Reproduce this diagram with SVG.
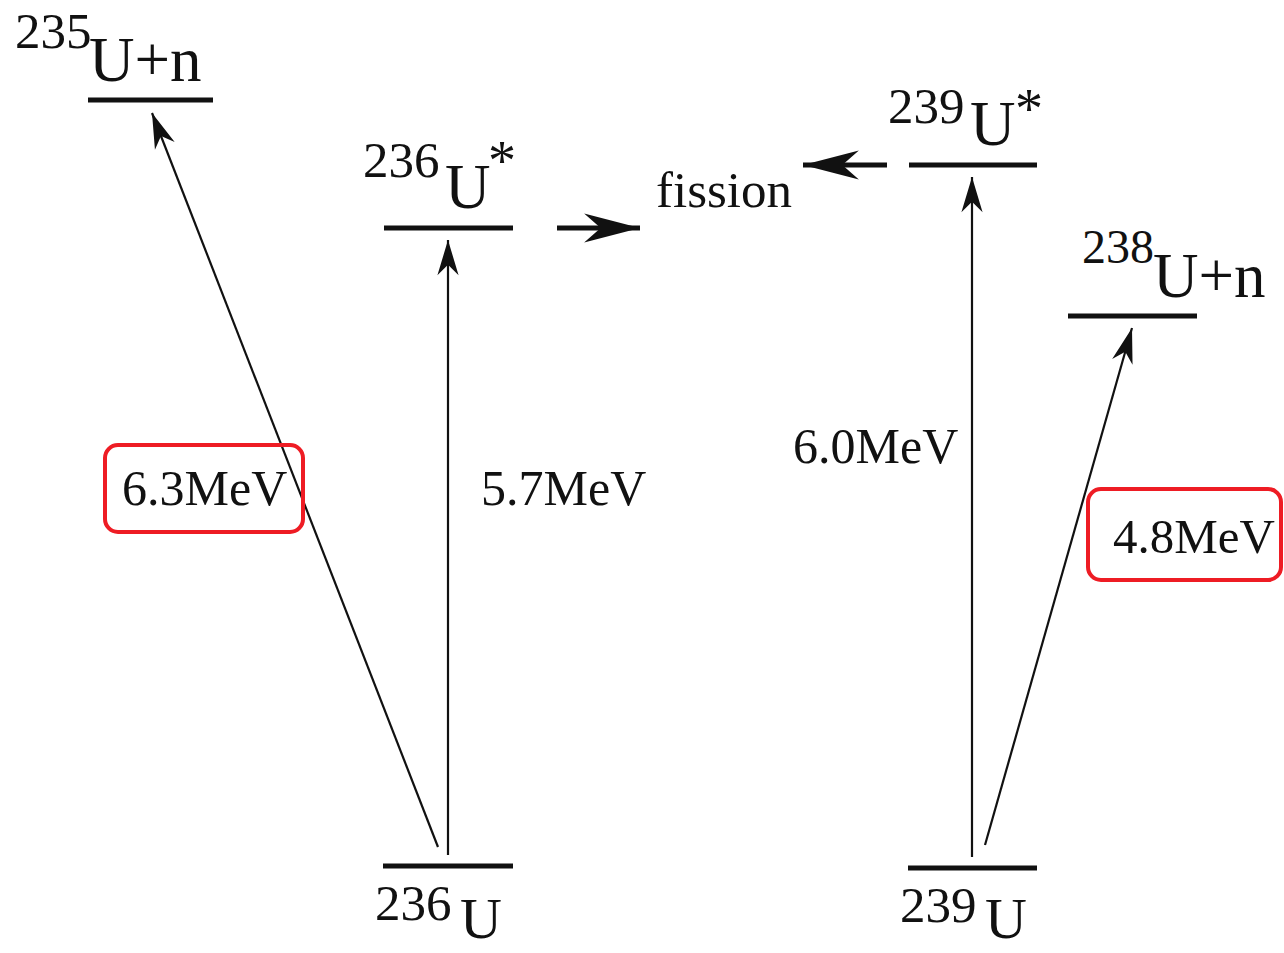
<svg xmlns="http://www.w3.org/2000/svg" width="1284" height="953" viewBox="0 0 1284 953">
<style>
text{font-family:"Liberation Serif","Times New Roman",serif;fill:#111}
.lvl{stroke:#111;stroke-width:5;fill:none}
.arr{stroke:#111;stroke-width:2.2;fill:none}
.thick{stroke:#111;stroke-width:5;fill:none}
.box{fill:none;stroke:#ee1c24;stroke-width:4}
.sup{font-size:51px}
.big{font-size:63px}
.bot{font-size:58px}
.lab{font-size:50px}
.ast{font-size:56px}
</style>
<defs>
<marker id="ah" markerUnits="userSpaceOnUse" markerWidth="40" markerHeight="30" viewBox="-32 -12 34 24" refX="0" refY="0" orient="auto">
<path d="M0,0 L-30,-9 L-21,0 L-30,9 Z" fill="#111"/>
</marker>
<marker id="ahb" markerUnits="userSpaceOnUse" markerWidth="60" markerHeight="34" viewBox="-56 -16 58 32" refX="0" refY="0" orient="auto">
<path d="M0,0 L-54,-14 L-38,0 L-54,14 Z" fill="#111"/>
</marker>
</defs>
<g id="n235Un">
<line class="lvl" x1="88" y1="100" x2="213" y2="100"/>
<text class="sup" x="15" y="48">235</text>
<text class="big" x="89" y="81">U+n</text>
</g>
<g id="n236Ustar">
<line class="lvl" x1="384" y1="228" x2="513" y2="228"/>
<text class="sup" x="363" y="177">236</text>
<text class="big" x="445" y="208">U</text>
<text class="ast" x="488" y="180">*</text>
</g>
<g id="nfission">
<text style="font-size:51px" x="656" y="207">fission</text>
</g>
<g id="n239Ustar">
<line class="lvl" x1="909" y1="165" x2="1037" y2="165"/>
<text class="sup" x="888" y="123">239</text>
<text class="big" x="970" y="145">U</text>
<text class="ast" x="1015" y="128">*</text>
</g>
<g id="n238Un">
<line class="lvl" x1="1068" y1="316" x2="1197" y2="316"/>
<text style="font-size:48px" x="1082" y="263">238</text>
<text class="big" x="1153" y="297">U+n</text>
</g>
<g id="n236U">
<line class="lvl" x1="383" y1="866" x2="513" y2="866"/>
<text class="sup" x="375" y="920">236</text>
<text class="bot" x="460" y="938">U</text>
</g>
<g id="n239U">
<line class="lvl" x1="908" y1="868" x2="1037" y2="868"/>
<text class="sup" x="900" y="922">239</text>
<text class="bot" x="985" y="938">U</text>
</g>
<g id="connectors">
<line class="arr" x1="438" y1="847" x2="152" y2="113" marker-end="url(#ah)"/>
<line class="arr" x1="448" y1="855" x2="448" y2="240" marker-end="url(#ah)"/>
<line class="arr" x1="972" y1="857" x2="972" y2="177" marker-end="url(#ah)"/>
<line class="arr" x1="985" y1="845" x2="1132" y2="328" marker-end="url(#ah)"/>
<line class="thick" x1="557" y1="228" x2="640" y2="228" marker-end="url(#ahb)"/>
<line class="thick" x1="887" y1="165" x2="803" y2="165" marker-end="url(#ahb)"/>
</g>
<g id="labels">
<rect class="box" x="105" y="445" width="198" height="87" rx="13"/>
<text class="lab" x="122" y="505">6.3MeV</text>
<text class="lab" x="481" y="505">5.7MeV</text>
<text class="lab" x="793" y="463">6.0MeV</text>
<rect class="box" x="1088" y="489" width="193" height="91" rx="13"/>
<text style="font-size:49px" x="1113" y="553">4.8MeV</text>
</g>
</svg>
